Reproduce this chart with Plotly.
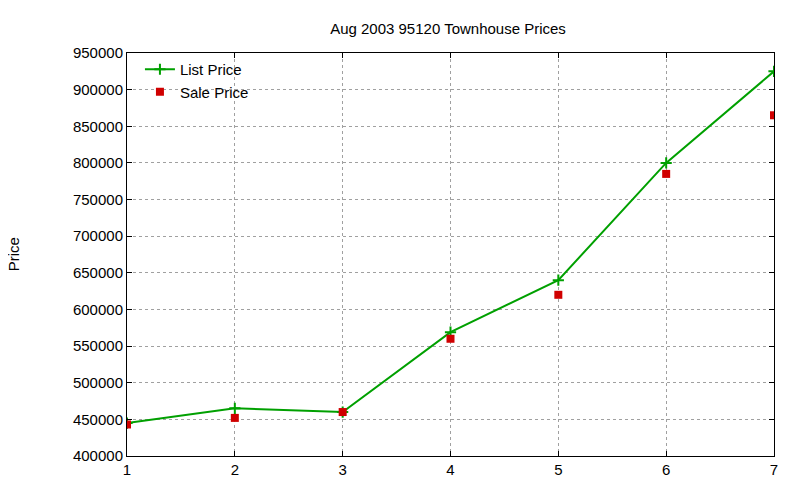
import plotly.graph_objects as go

months = [1, 2, 3, 4, 5, 6, 7]
list_price = [445000, 465000, 460000, 569000, 640000, 800000, 925000]
sale_price = [443000, 452000, 460000, 560000, 620000, 785000, 865000]
y_ticks = list(range(400000, 950001, 50000))

fig = go.Figure()
fig.add_trace(go.Scatter(
    x=months, y=list_price, name='List Price', mode='lines+markers',
    line=dict(color='#00a000', width=2),
    marker=dict(symbol='cross-thin', size=8, line=dict(color='#00a000', width=2)),
))
fig.add_trace(go.Scatter(
    x=months, y=sale_price, name='Sale Price', mode='markers',
    marker=dict(symbol='square', size=8, color='#d00000'),
))

axis_style = dict(
    showgrid=True, gridcolor='#a0a0a0', griddash='dot', gridwidth=1,
    showline=True, linecolor='black', linewidth=1, mirror='ticks',
    ticks='inside', ticklen=5, tickcolor='black', zeroline=False,
    tickfont=dict(size=15, color='black'), automargin=False,
)

fig.update_layout(
    width=800, height=480,
    plot_bgcolor='white', paper_bgcolor='white',
    font=dict(family='Liberation Sans, Arial, sans-serif', color='black'),
    title=dict(text='Aug 2003 95120 Townhouse Prices', x=0.55, xanchor='center',
               y=1 - 21 / 480, yanchor='middle', font=dict(size=15), automargin=False),
    margin=dict(l=119, r=34, t=45, b=32, autoexpand=False),
    xaxis=dict(range=[1, 7], tickvals=months, **axis_style),
    yaxis=dict(range=[400000, 950000], tickvals=y_ticks,
               tickformat='d', **axis_style),
    legend=dict(x=0.02, y=1.0, xanchor='left', yanchor='top',
                bgcolor='rgba(0,0,0,0)', font=dict(size=15), tracegroupgap=0),
    showlegend=True,
)
fig.add_annotation(text='Price', xref='paper', yref='paper', x=-0.175, y=0.5,
                   xanchor='center', textangle=-90, showarrow=False, font=dict(size=15))

fig.write_html("out.html")
